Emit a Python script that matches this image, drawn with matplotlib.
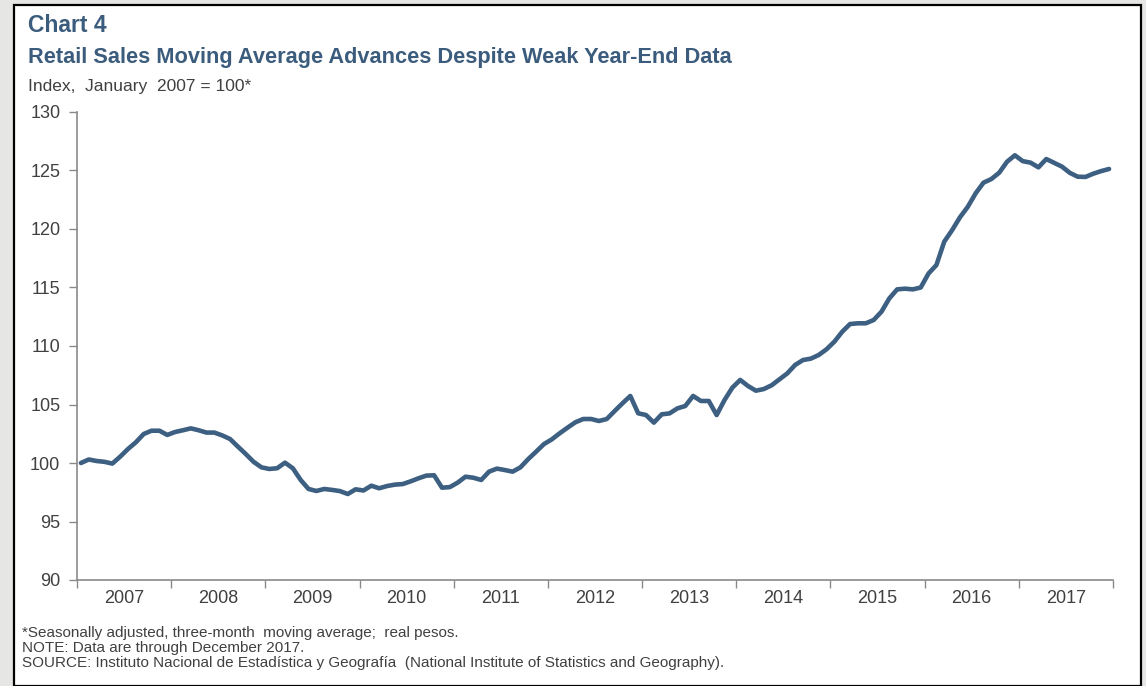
import matplotlib
matplotlib.use("Agg")
import matplotlib.pyplot as plt
from matplotlib.patches import Rectangle
from matplotlib import font_manager as fm

# ---- data ----
years = [2007, 2008, 2009, 2010, 2011, 2012, 2013, 2014, 2015, 2016, 2017]
year_labels = [str(y) for y in years]
values_2007 = [100.0, 100.3, 100.17, 100.1, 99.95, 100.54, 101.2, 101.77, 102.48, 102.76, 102.76, 102.4]
values_2008 = [102.65, 102.8, 102.96, 102.8, 102.6, 102.6, 102.36, 102.05, 101.4, 100.77, 100.1, 99.63]
values_2009 = [99.49, 99.55, 100.03, 99.55, 98.55, 97.78, 97.61, 97.78, 97.7, 97.6, 97.35, 97.75]
values_2010 = [97.65, 98.06, 97.84, 98.03, 98.15, 98.2, 98.43, 98.69, 98.92, 98.95, 97.89, 97.94]
values_2011 = [98.32, 98.83, 98.74, 98.55, 99.26, 99.52, 99.4, 99.26, 99.63, 100.34, 100.97, 101.62]
values_2012 = [102.02, 102.54, 103.02, 103.48, 103.76, 103.76, 103.59, 103.76, 104.44, 105.1, 105.73, 104.25]
values_2013 = [104.1, 103.45, 104.16, 104.24, 104.67, 104.87, 105.73, 105.3, 105.3, 104.1, 105.38, 106.44]
values_2014 = [107.1, 106.58, 106.18, 106.32, 106.64, 107.15, 107.66, 108.38, 108.8, 108.92, 109.23, 109.72]
values_2015 = [110.37, 111.22, 111.88, 111.94, 111.94, 112.22, 112.93, 114.07, 114.84, 114.9, 114.84, 115.0]
values_2016 = [116.2, 116.92, 118.92, 119.9, 121.0, 121.9, 123.05, 123.96, 124.27, 124.81, 125.75, 126.3]
values_2017 = [125.8, 125.67, 125.27, 125.98, 125.65, 125.33, 124.8, 124.47, 124.45, 124.73, 124.95, 125.13]
y_ticks = [90, 95, 100, 105, 110, 115, 120, 125, 130]

values = (values_2007 + values_2008 + values_2009 + values_2010 + values_2011 + values_2012
          + values_2013 + values_2014 + values_2015 + values_2016 + values_2017)
months = list(range(len(values)))

# ---- fonts ----
available = {f.name for f in fm.fontManager.ttflist}
narrow = "Liberation Sans Narrow" if "Liberation Sans Narrow" in available else "Liberation Sans"
plt.rcParams["font.family"] = ["Liberation Sans", "DejaVu Sans"]

W, H = 1146, 686
fig = plt.figure(figsize=(W / 100, H / 100), dpi=100)
fig.patch.set_facecolor("#e6e6e4")

# white panel with black frame
panel = Rectangle((14 / W, 0), (1141 - 14) / W, (H - 5) / H, transform=fig.transFigure,
                  facecolor="white", edgecolor="black", linewidth=1.6, zorder=-5)
fig.patches.append(panel)

title_col = "#3b5c7c"
text_col = "#404040"
axis_col = "#8a8a8a"

fig.text(28 / W, 1 - 25 / H, "Chart 4", fontsize=16.5, fontweight="bold", color=title_col,
         family=[narrow, "DejaVu Sans"], va="center", ha="left")
fig.text(28 / W, 1 - 57 / H, "Retail Sales Moving Average Advances Despite Weak Year-End Data",
         fontsize=15.7, fontweight="bold", color=title_col, family=[narrow, "DejaVu Sans"],
         va="center", ha="left")
fig.text(28 / W, 1 - 87 / H, "Index,  January  2007 = 100*", fontsize=12.5, color=text_col,
         family=[narrow, "DejaVu Sans"], va="center", ha="left")

ax = fig.add_axes([77 / W, (H - 580) / H, (1113 - 77) / W, (580 - 112) / H])
ax.set_facecolor("none")
ax.plot(months, values, color="#3d6082", linewidth=3.3, solid_joinstyle="round",
        solid_capstyle="round", zorder=3)

ax.set_xlim(-0.5, len(values) - 0.5)
ax.set_ylim(90, 130)
ax.set_yticks(y_ticks)
ax.set_yticklabels([str(t) for t in y_ticks], fontsize=13, color=text_col)

n_years = len(years)
ax.set_xticks([-0.5 + 12 * k for k in range(n_years + 1)])
ax.set_xticklabels([])
ax.set_xticks([5.5 + 12 * k for k in range(n_years)], minor=True)
ax.set_xticklabels(year_labels, minor=True, fontsize=13, color=text_col)
ax.tick_params(axis="x", which="major", direction="out", length=6, color=axis_col, width=1)
ax.tick_params(axis="x", which="minor", length=0, pad=7)
ax.tick_params(axis="y", direction="out", length=6, color=axis_col, width=1, pad=6)

for s in ["top", "right"]:
    ax.spines[s].set_visible(False)
for s in ["left", "bottom"]:
    ax.spines[s].set_color(axis_col)
    ax.spines[s].set_linewidth(1.2)

notes = [
    "*Seasonally adjusted, three-month  moving average;  real pesos.",
    "NOTE: Data are through December 2017.",
    "SOURCE: Instituto Nacional de Estadística y Geografía  (National Institute of Statistics and Geography).",
]
for i, line in enumerate(notes):
    fig.text(22 / W, 1 - (633 + 15 * i) / H, line, fontsize=10.95, color=text_col,
             family=[narrow, "DejaVu Sans"], va="center", ha="left")

fig.savefig("out.png", dpi=100, facecolor=fig.get_facecolor())
